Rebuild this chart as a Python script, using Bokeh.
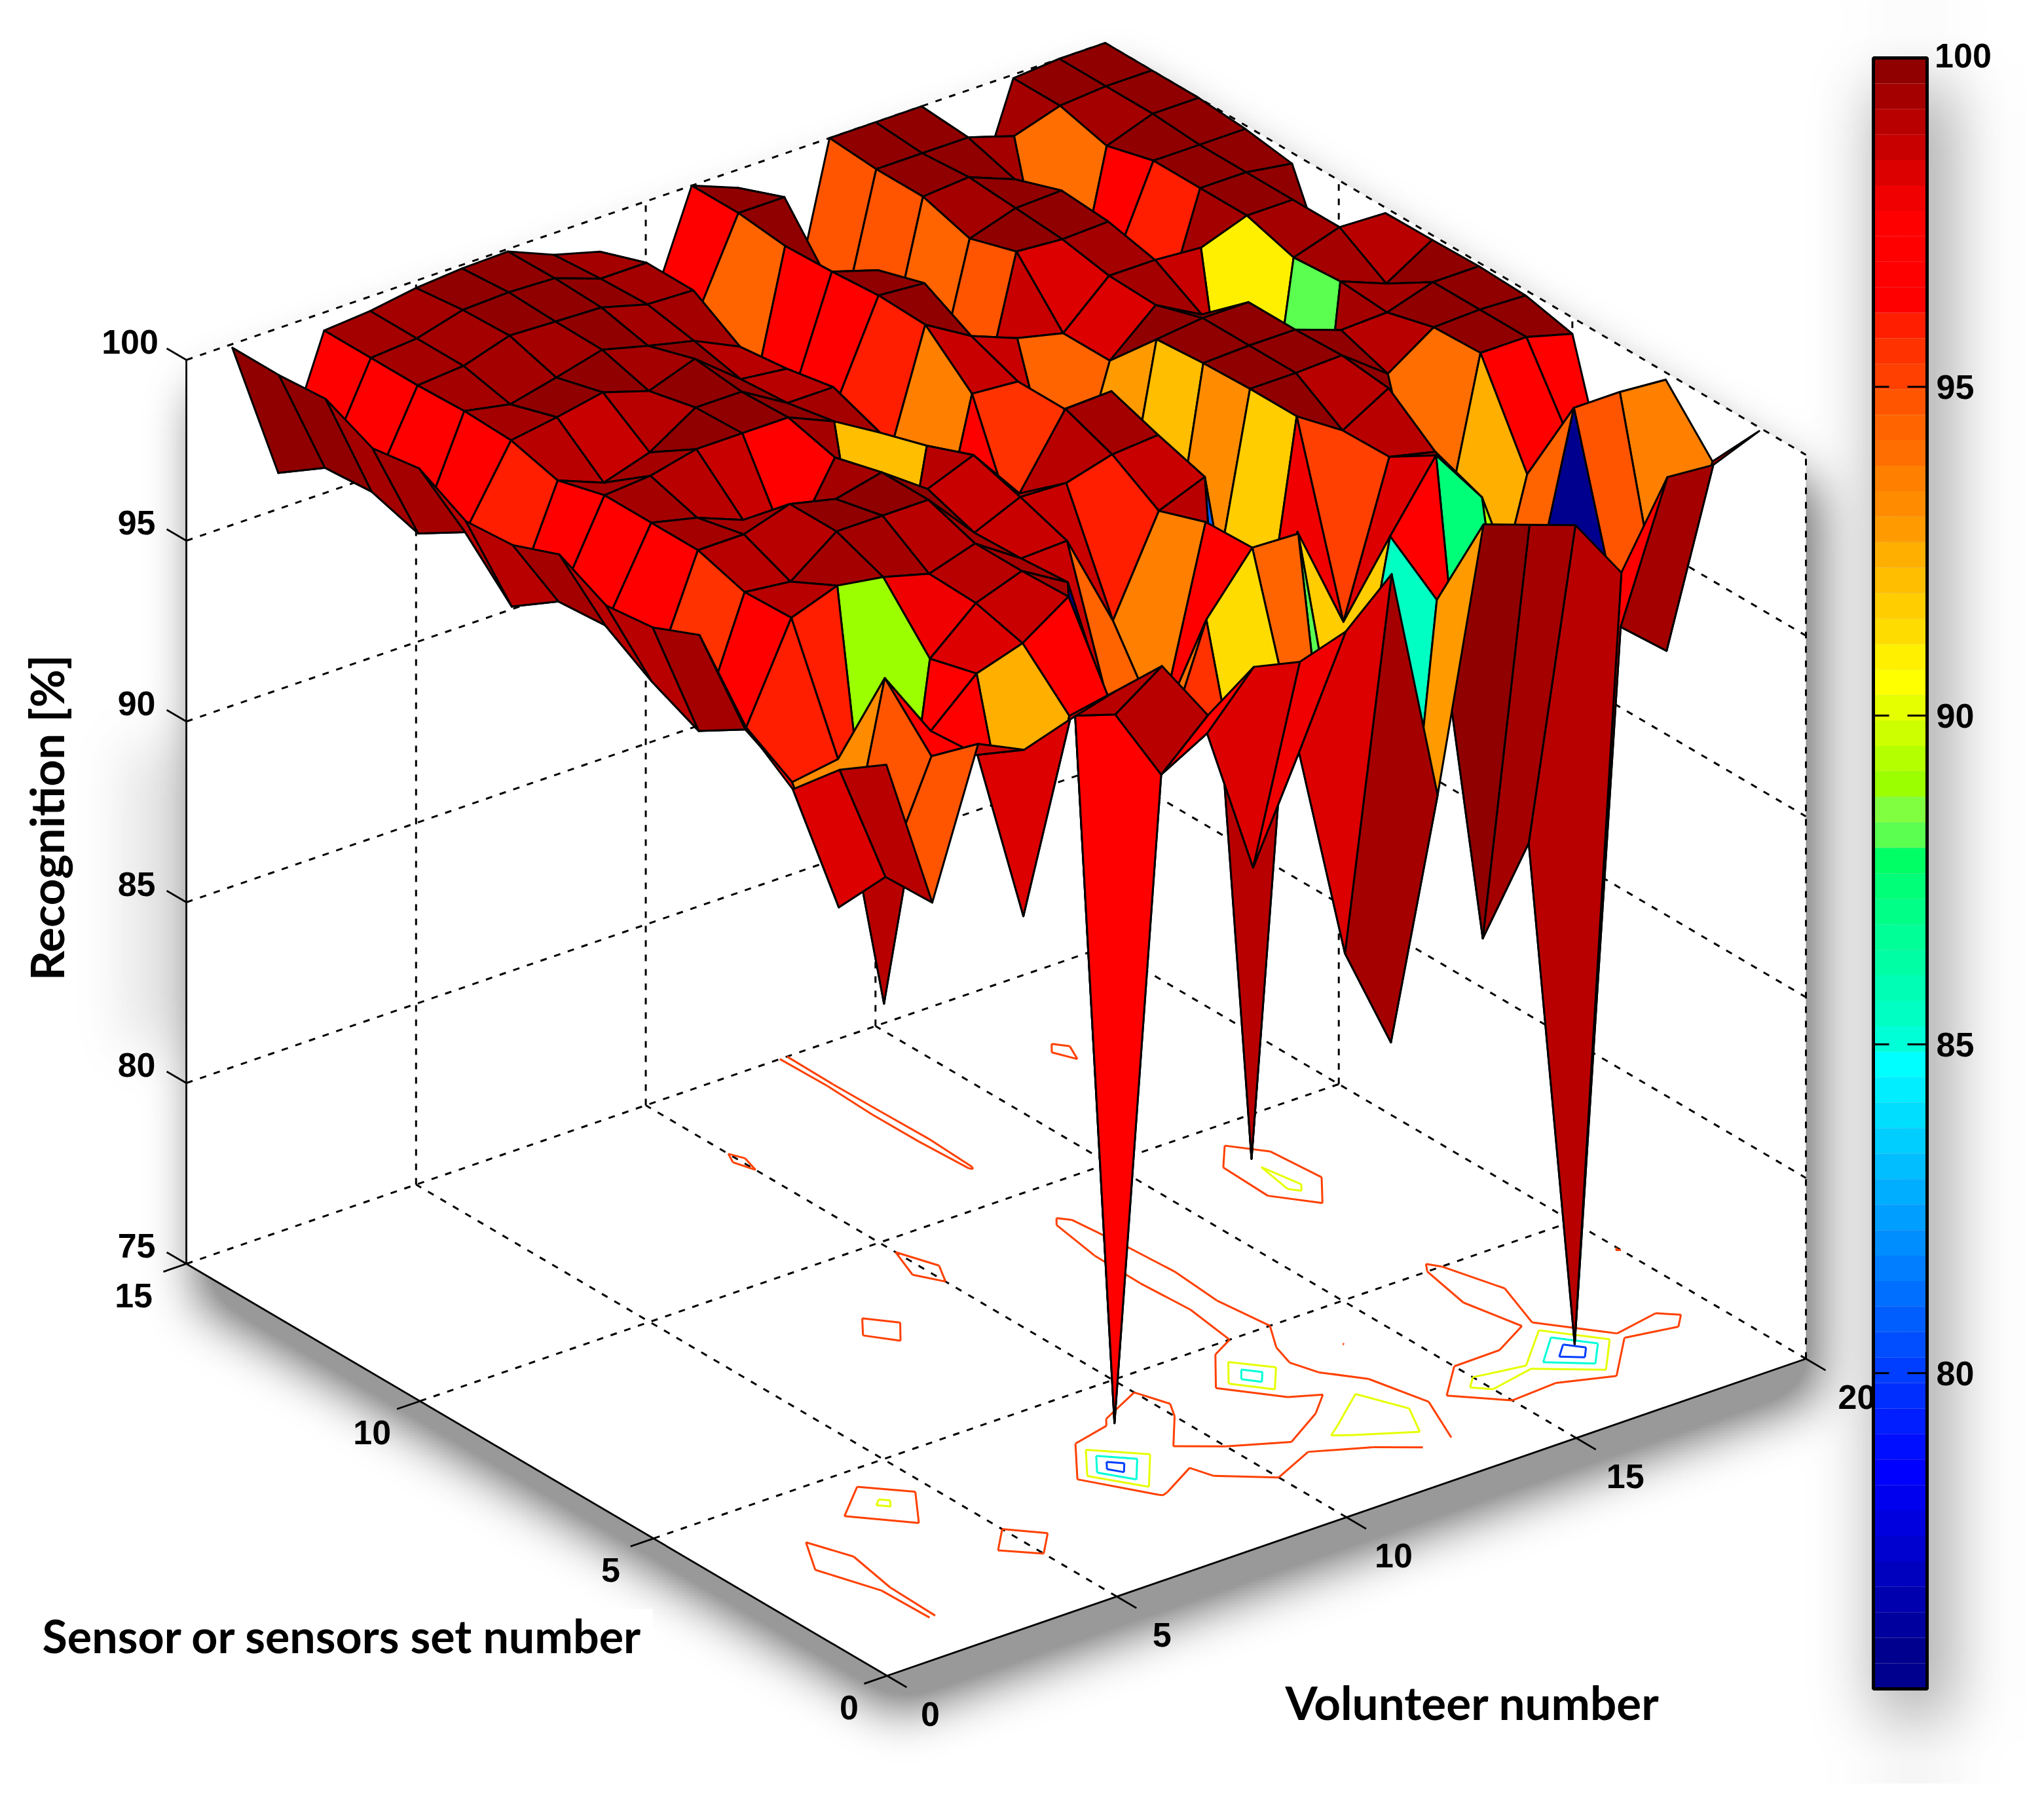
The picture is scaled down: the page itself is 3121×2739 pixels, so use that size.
import numpy as np
from bokeh.embed import file_html
from bokeh.models import Range1d
from bokeh.plotting import figure
from bokeh.resources import INLINE
from bokeh.core.properties import value

# ---- data: recognition [%] per volunteer (v) for sensor/set s = 1..15
volunteers = list(range(1, 21))
sensors = list(range(1, 16))
recog_v01 = [99.0, 98.1, 96.8, 97.75, 99.55, 99.0, 98.85, 99.5, 99.0, 98.9, 99.6, 99.4, 100, 99.9, 99.9]
recog_v02 = [94.75, 94.7, 93.1, 95.8, 96.5, 95.7, 96.3, 97.1, 97.0, 96.1, 97.4, 96.6, 97.0, 96.9, 96.0]
recog_v03 = [98.7, 97.6, 99.0, 96.0, 99.15, 99.1, 99.5, 99.5, 99.5, 99.15, 99.5, 99.55, 99.5, 99.5, 99.5]
recog_v04 = [98.1, 97.2, 97.1, 88.8, 99.6, 98.95, 99.5, 99.2, 99.6, 98.65, 99.7, 99.3, 99.6, 99.6, 99.6]
recog_v05 = [98.5, 92.3, 98.25, 97.9, 99.4, 99.9, 99.9, 98.7, 99.9, 99.05, 99.95, 99.6, 100, 99.95, 99.8]
recog_v06 = [98.85, 97.4, 98.65, 99.0, 99.05, 99.9, 99.6, 97.4, 99.9, 99.85, 99.55, 99.93, 99.95, 100, 99.9]
recog_v07 = [99.1, 97.0, 99.5, 99.45, 99.45, 99.9, 99.9, 99.55, 99.9, 99.85, 100, 99.6, 99.9, 99.95, 99.93]
recog_v08 = [97.3, 94.9, 76.2, 98.7, 98.6, 98.55, 99.0, 92.1, 99.35, 99.1, 99.0, 99.3, 99.55, 99.5, 99.4]
recog_v09 = [98.2, 95.6, 94.0, 94.3, 98.65, 99.1, 99.5, 99.0, 98.6, 99.1, 98.85, 98.7, 99.5, 99.5, 99.05]
recog_v10 = [97.9, 91.45, 97.55, 93.8, 96.0, 99.05, 98.0, 97.1, 93.5, 95.8, 97.2, 96.3, 94.3, 97.3, 96.6]
recog_v11 = [98.3, 94.2, 99.1, 99.05, 98.6, 99.4, 99.9, 95.5, 98.8, 99.95, 100, 99.9, 99.85, 100, 100]
recog_v12 = [99.45, 88.2, 99.05, 81.0, 99.1, 99.5, 99.95, 98.7, 98.7, 99.2, 99.9, 99.5, 98.3, 100, 99.5]
recog_v13 = [92.9, 85.3, 91.5, 97.9, 91.5, 93.1, 92.1, 93.0, 94.3, 98.7, 94.8, 94.5, 94.6, 94.7, 94.6]
recog_v14 = [99.95, 97.1, 98.1, 94.97, 99.9, 99.9, 99.85, 99.75, 98.4, 98.4, 99.9, 99.5, 99.9, 99.9, 100]
recog_v15 = [99.5, 87.3, 99.9, 99.1, 99.07, 99.9, 99.9, 99.9, 99.5, 99.55, 99.8, 99.9, 100, 99.9, 100]
recog_v16 = [99.05, 89.5, 98.3, 98.8, 99.8, 99.95, 99.9, 99.9, 98.8, 99.55, 99.85, 99.95, 99.5, 99.9, 100]
recog_v17 = [97.3, 75.2, 94.5, 92.6, 94.1, 99.0, 99.45, 88.3, 90.7, 99.45, 96.0, 97.0, 93.9, 99.5, 96.3]
recog_v18 = [99.5, 94.6, 99.9, 97.3, 99.9, 99.85, 99.5, 99.6, 99.5, 99.9, 99.9, 99.9, 99.55, 99.9, 99.9]
recog_v19 = [99.4, 93.5, 99.9, 97.6, 99.9, 99.9, 99.9, 99.1, 99.9, 99.9, 99.9, 99.9, 100, 100, 100]
recog_v20 = [99.9, 98.3, 99.8, 94.8, 99.55, 99.85, 99.9, 99.87, 99.85, 96.6, 99.7, 99.9, 100, 100, 100]
z_ticks = [75, 80, 85, 90, 95, 100]
sensor_ticks = [0, 5, 10, 15]
volunteer_ticks = [0, 5, 10, 15, 20]
bar_ticks = [80, 85, 90, 95, 100]
contour_levels = [80, 85, 90, 95]
z_label = "Recognition [%]"
x_label = "Volunteer number"
y_label = "Sensor or sensors set number"

Z = np.array([recog_v01, recog_v02, recog_v03, recog_v04, recog_v05, recog_v06, recog_v07,
              recog_v08, recog_v09, recog_v10, recog_v11, recog_v12, recog_v13, recog_v14,
              recog_v15, recog_v16, recog_v17, recog_v18, recog_v19, recog_v20])
CMIN, CMAX = 75.2, 100.0
ZFLOOR = 75.0

# colour map of the figure, from 100 down, band by band
palette = [(145, 0, 0), (165, 0, 0), (185, 0, 0), (200, 0, 0), (220, 0, 0), (240, 0, 0)]
palette += [(255, 0, 0)] * 4
palette += [(255, g, 0) for g in (30, 50, 64, 85, 100, 110, 128, 140, 155, 175, 190, 205, 220, 240, 255)]
palette += [(230, 255, 0), (205, 255, 0), (180, 255, 0), (155, 255, 0), (128, 255, 64), (90, 255, 80)]
palette += [(0, 255, b) for b in (100, 120, 135, 150, 165, 180, 195, 215, 255)]
palette += [(0, g, 255) for g in range(238, 0, -16)]
palette += [(0, 0, 255)]
palette += [(0, 0, b) for b in (239, 223, 207, 191, 175, 159, 143)]
palette = palette[:64]
while len(palette) < 64:
    palette.append((0, 0, 143))


def proj(v, s, z):
    return (1354 + 70.15 * v - 71.33 * s,
            2558 - 24.2 * v - 41.93 * s - (z - ZFLOOR) * 55.2)


def zcolor(z):
    k = int((CMAX - z) / (CMAX - CMIN) * 64)
    return "#%02x%02x%02x" % palette[min(max(k, 0), 63)]


W, H = 3105, 2723
p = figure(width=W, height=H, x_range=Range1d(0, W), y_range=Range1d(H, 0),
           toolbar_location=None, output_backend="svg", min_border=0,
           background_fill_color="white", border_fill_color="white", outline_line_color=None)
p.xaxis.visible = False
p.yaxis.visible = False
p.xgrid.visible = False
p.ygrid.visible = False

# ---- soft drop shadows of the original figure
SC = 4
hs, ws = 2739 // SC, 3121 // SC
yy, xx = np.mgrid[0:hs, 0:ws]
xx = xx * SC
yy = yy * SC
corners = [proj(0, 15, 75), proj(0, 0, 75), proj(20, 0, 75), proj(20, 0, 100), proj(20, 15, 100), proj(0, 15, 100)]


def inside(poly, dx, dy):
    m = np.ones(xx.shape, bool)
    for (x0, y0), (x1, y1) in zip(poly, poly[1:] + poly[:1]):
        m &= ((x1 - x0) * (yy - dy - y0) - (y1 - y0) * (xx - dx - x0)) >= 0
    return m.astype(float)


def blur(a, r, n=3):
    for _ in range(n):
        for ax in (0, 1):
            c = np.cumsum(a, axis=ax)
            a = (np.roll(c, -r, axis=ax) - np.roll(c, r, axis=ax)) / (2 * r)
            if ax == 0:
                a[:r, :] = a[r, :]
                a[-r:, :] = a[-r - 1, :]
            else:
                a[:, :r] = a[:, r:r + 1]
                a[:, -r:] = a[:, -r - 1:-r]
    return np.clip(a, 0, 1)


sh1 = blur(inside(corners[::-1], 20, 60), 9) * 0.95
bar_poly = [(2860, 86), (2970, 86), (2970, 2579), (2860, 2579)]
sh2 = blur(inside(bar_poly, 10, 50), 12) * 0.55
label_poly = [(200, 1100), (290, 1100), (290, 1560), (200, 1560)]
sh3 = blur(inside(label_poly, 0, 40), 10) * 0.18
alpha = np.clip(sh1 + sh2 + sh3, 0, 0.62)
alpha[:, 3095 // SC:] = 0
rgba = np.zeros((hs, ws), dtype=np.uint32)
view = rgba.view(dtype=np.uint8).reshape((hs, ws, 4))
view[:, :, 3] = (alpha * 255).astype(np.uint8)
view[:, :, 0:3] = 90
p.image_rgba(image=[rgba], x=0, y=0, dw=ws * SC, dh=hs * SC)

# white inside of the box
p.patch([c[0] for c in corners], [c[1] for c in corners], fill_color="white", line_color=None)

# ---- dashed walls and floor grid
gx, gy = [], []


def seg(a, b):
    gx.append([a[0], b[0]])
    gy.append([a[1], b[1]])


for z in z_ticks:
    seg(proj(0, 15, z), proj(20, 15, z))
    seg(proj(20, 15, z), proj(20, 0, z))
for t in volunteer_ticks[1:]:
    seg(proj(t, 15, 75), proj(t, 15, 100))
    if t < 20:
        seg(proj(t, 0, 75), proj(t, 15, 75))
for t in sensor_ticks[:-1]:
    seg(proj(20, t, 75), proj(20, t, 100))
    if t > 0:
        seg(proj(0, t, 75), proj(20, t, 75))
p.multi_line(gx, gy, line_color="black", line_width=3, line_dash="10 12")

# solid box edges and ticks
bx, by = [], []


def sol(a, b):
    bx.append([a[0], b[0]])
    by.append([a[1], b[1]])


sol(proj(0, 15, 75), proj(0, 15, 100))
sol(proj(0, 15, 75), proj(0, 0, 75))
sol(proj(0, 0, 75), proj(20, 0, 75))
for z in z_ticks:
    sol(proj(0, 15, z), proj(0, 15.42, z))
for t in sensor_ticks:
    sol(proj(0, t, 75), proj(-0.5, t, 75))
for t in volunteer_ticks:
    sol(proj(t, 0, 75), proj(t, -0.42, 75))
p.multi_line(bx, by, line_color="black", line_width=2.8)

# ---- floor contours, from the surface values
cx, cy, cc = [], [], []
for lev in contour_levels:
    for i in range(Z.shape[0] - 1):
        for j in range(Z.shape[1] - 1):
            q = [(i, j), (i + 1, j), (i + 1, j + 1), (i, j + 1)]
            pts = []
            for k in range(4):
                a, b = q[k], q[(k + 1) % 4]
                za, zb = Z[a], Z[b]
                if (za - lev) * (zb - lev) < 0:
                    t = (lev - za) / (zb - za)
                    pts.append((a[0] + t * (b[0] - a[0]) + 1, a[1] + t * (b[1] - a[1]) + 1))
            if len(pts) == 4:
                centre_high = np.mean([Z[c] for c in q]) >= lev
                q0_high = Z[q[0]] >= lev
                if centre_high != q0_high:
                    pts = [pts[1], pts[2], pts[3], pts[0]]
            for m in range(0, len(pts) - 1, 2):
                a = proj(pts[m][0], pts[m][1], 75)
                b = proj(pts[m + 1][0], pts[m + 1][1], 75)
                cx.append([a[0], b[0]])
                cy.append([a[1], b[1]])
                cc.append(zcolor(lev))
p.multi_line(cx, cy, line_color=cc, line_width=3)

# ---- surface mesh, back to front; a cell takes the colour of its lowest-index corner
xs, ys, fc = [], [], []
for i in range(len(volunteers) - 2, -1, -1):
    for j in range(len(sensors) - 2, -1, -1):
        cell = [(i, j), (i + 1, j), (i + 1, j + 1), (i, j + 1)]
        pts = [proj(volunteers[a], sensors[b], Z[a, b]) for a, b in cell]
        xs.append([t[0] for t in pts])
        ys.append([t[1] for t in pts])
        fc.append(zcolor(Z[i, j]))
p.patches(xs, ys, fill_color=fc, line_color="black", line_width=3, line_join="round")

# ---- colour bar
BX0, BX1 = 2860, 2942


def ybar(z):
    return 590 + (95 - z) * 100.4


edges = np.linspace(CMAX, CMIN, 65)
p.quad(left=BX0, right=BX1, top=[ybar(e) for e in edges[:-1]], bottom=[ybar(e) for e in edges[1:]],
       fill_color=["#%02x%02x%02x" % c for c in palette], line_color=None)
p.quad(left=[BX0], right=[BX1], top=[ybar(CMAX)], bottom=[ybar(CMIN)], fill_color=None, line_color="black", line_width=5)
tx, ty = [], []
for t in bar_ticks[:-1]:
    tx += [[BX0, BX0 + 24], [BX1 - 30, BX1]]
    ty += [[ybar(t), ybar(t)], [ybar(t), ybar(t)]]
p.multi_line(tx, ty, line_color="black", line_width=3)

# ---- white patches behind the axis titles
p.quad(left=[36], right=[996], top=[2456], bottom=[2552], fill_color="white", line_color=None)
p.quad(left=[1940], right=[2560], top=[2560], bottom=[2650], fill_color="white", line_color=None)


# ---- texts
def label(x, y, t, size="52px", font="Liberation Sans", angle=0, align="center"):
    p.text([x], [y], text=[t], text_font=value(font), text_font_size=size, text_font_style="bold",
           text_align=align, text_baseline="middle", text_color="black", angle=angle)


for t in z_ticks:
    a = proj(0, 15, t)
    label(a[0] - 76 if t < 100 else a[0] - 86, a[1] - 28, str(t))
for t in sensor_ticks:
    a = proj(0, t, 75)
    label(a[0] - 58 - 1.5 * t, a[1] + 48, str(t))
for t in volunteer_ticks:
    a = proj(t, 0, 75)
    label(a[0] + 66 + 0.6 * t, a[1] + 58, str(t))
for t in bar_ticks:
    label(2985 if t < 100 else 2997, ybar(t) - (0 if t < 100 else 4), str(t))

label(64, 2496, y_label, size="70px", font="Lato", align="left")
label(1962, 2598, x_label, size="71px", font="Lato", align="left")
label(70, 1248, z_label, size="71px", font="Lato", angle=np.pi / 2)

open("out.html", "w").write(file_html(p, INLINE))
